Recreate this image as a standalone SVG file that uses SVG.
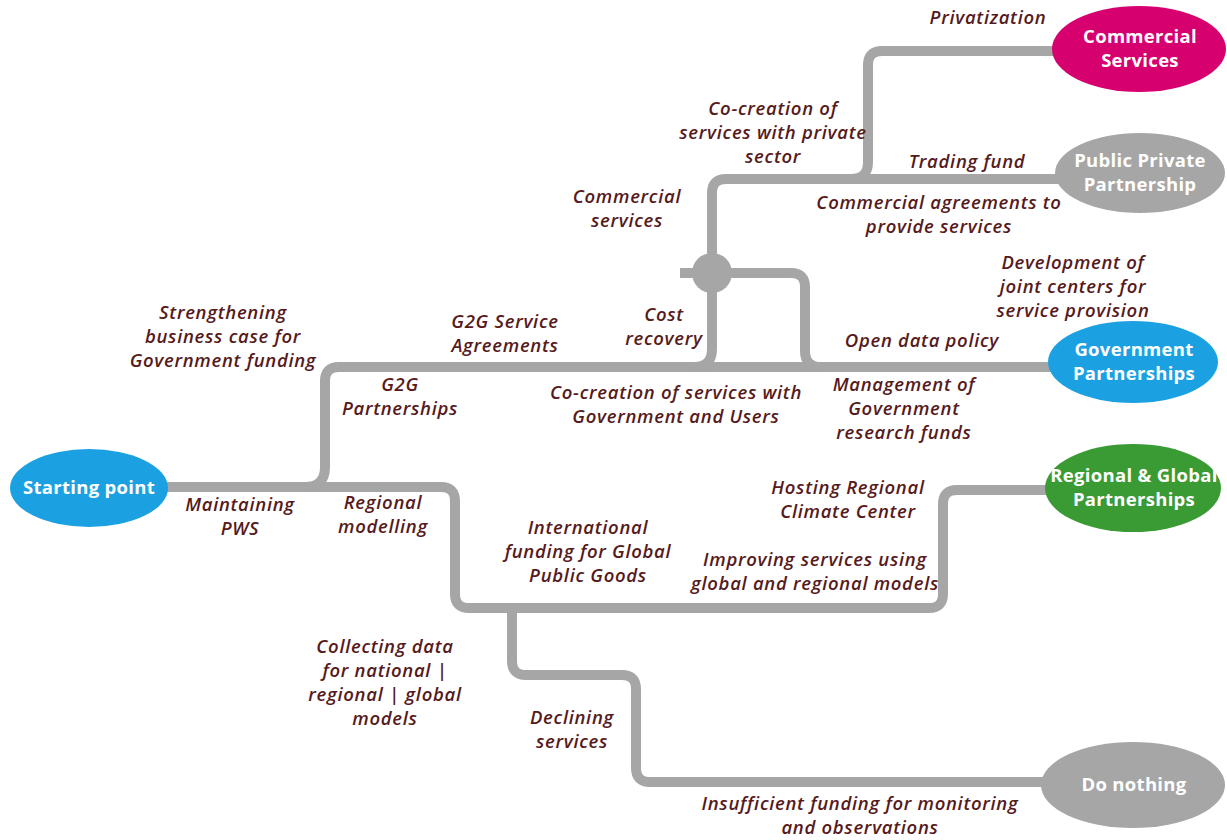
<svg xmlns="http://www.w3.org/2000/svg" width="1227" height="840" viewBox="0 0 1227 840">
  <style>
    .track { fill: none; stroke: #a6a6a6; stroke-width: 10; stroke-linejoin: round; }
    .lbl { font-family: "Open Sans", "Liberation Sans", sans-serif; font-style: italic; font-weight: 600; font-size: 18.5px; letter-spacing: 0.7px; fill: #561a1c; text-anchor: middle; }
    .node-text { font-family: "Open Sans", "Liberation Sans", sans-serif; font-weight: 700; font-size: 18.5px; letter-spacing: 0.3px; fill: #ffffff; text-anchor: middle; }
  </style>
  <rect width="1227" height="840" fill="#ffffff"/>

  <!-- connectors -->
  <g id="connectors">
    <path class="track" d="M160,487 H441 Q455,487 455,501 V594 Q455,608 469,608 H929 Q943,608 943,594 V504 Q943,490 957,490 H1048"/>
    <path class="track" d="M305,487 Q325,487 325,467 V381 Q325,367 339,367 H1052"/>
    <path class="track" d="M694,367 Q712,367 712,349 V273"/>
    <path class="track" d="M712,273 V193 Q712,179 726,179 H1060"/>
    <path class="track" d="M712,273 H791 Q805,273 805,287 V351 Q805,367 821,367"/>
    <path class="track" d="M680,273 H712"/>
    <path class="track" d="M851,179 Q868,179 868,162 V65 Q868,51 882,51 H1056"/>
    <path class="track" d="M512,608 V661 Q512,675 526,675 H622 Q636,675 636,689 V768 Q636,782 650,782 H1046"/>
    <circle cx="712" cy="273" r="20" fill="#a6a6a6"/>
  </g>

  <!-- nodes -->
  <g id="start">
    <ellipse cx="89" cy="488" rx="79" ry="39" fill="#1ba1e2"/>
    <text class="node-text" x="89" y="494">Starting point</text>
  </g>
  <g id="commercial">
    <ellipse cx="1139" cy="49" rx="87" ry="43" fill="#d6006f"/>
    <text class="node-text" x="1140" y="43">Commercial</text>
    <text class="node-text" x="1140" y="67">Services</text>
  </g>
  <g id="ppp">
    <ellipse cx="1140" cy="173" rx="85" ry="40" fill="#a6a6a6"/>
    <text class="node-text" x="1140" y="167">Public Private</text>
    <text class="node-text" x="1140" y="191">Partnership</text>
  </g>
  <g id="government">
    <ellipse cx="1133" cy="362" rx="85" ry="41" fill="#1ba1e2"/>
    <text class="node-text" x="1134" y="356">Government</text>
    <text class="node-text" x="1134" y="380">Partnerships</text>
  </g>
  <g id="regional">
    <ellipse cx="1133" cy="488" rx="88" ry="44" fill="#3a9a34"/>
    <text class="node-text" x="1134" y="482">Regional &amp; Global</text>
    <text class="node-text" x="1134" y="506">Partnerships</text>
  </g>
  <g id="nothing">
    <ellipse cx="1133" cy="785" rx="92" ry="43" fill="#a6a6a6"/>
    <text class="node-text" x="1134" y="791">Do nothing</text>
  </g>

  <!-- path labels -->
  <g id="labels">
    <text class="lbl" x="988" y="24">Privatization</text>
    <text class="lbl" x="773" y="115">Co-creation of</text>
    <text class="lbl" x="773" y="139">services with private</text>
    <text class="lbl" x="773" y="163">sector</text>
    <text class="lbl" x="967" y="168">Trading fund</text>
    <text class="lbl" x="939" y="209">Commercial agreements to</text>
    <text class="lbl" x="939" y="233">provide services</text>
    <text class="lbl" x="627" y="203">Commercial</text>
    <text class="lbl" x="627" y="227">services</text>
    <text class="lbl" x="1073" y="269">Development of</text>
    <text class="lbl" x="1073" y="293">joint centers for</text>
    <text class="lbl" x="1073" y="317">service provision</text>
    <text class="lbl" x="922" y="347">Open data policy</text>
    <text class="lbl" x="904" y="391">Management of</text>
    <text class="lbl" x="904" y="415">Government</text>
    <text class="lbl" x="904" y="439">research funds</text>
    <text class="lbl" x="676" y="399">Co-creation of services with</text>
    <text class="lbl" x="676" y="423">Government and Users</text>
    <text class="lbl" x="664" y="321">Cost</text>
    <text class="lbl" x="664" y="345">recovery</text>
    <text class="lbl" x="505" y="328">G2G Service</text>
    <text class="lbl" x="505" y="352">Agreements</text>
    <text class="lbl" x="223" y="319">Strengthening</text>
    <text class="lbl" x="223" y="343">business case for</text>
    <text class="lbl" x="223" y="367">Government funding</text>
    <text class="lbl" x="400" y="391">G2G</text>
    <text class="lbl" x="400" y="415">Partnerships</text>
    <text class="lbl" x="240" y="511">Maintaining</text>
    <text class="lbl" x="240" y="535">PWS</text>
    <text class="lbl" x="383" y="509">Regional</text>
    <text class="lbl" x="383" y="533">modelling</text>
    <text class="lbl" x="588" y="534">International</text>
    <text class="lbl" x="588" y="558">funding for Global</text>
    <text class="lbl" x="588" y="582">Public Goods</text>
    <text class="lbl" x="848" y="494">Hosting Regional</text>
    <text class="lbl" x="848" y="518">Climate Center</text>
    <text class="lbl" x="815" y="566">Improving services using</text>
    <text class="lbl" x="815" y="590">global and regional models</text>
    <text class="lbl" x="385" y="653">Collecting data</text>
    <text class="lbl" x="385" y="677">for national |</text>
    <text class="lbl" x="385" y="701">regional | global</text>
    <text class="lbl" x="385" y="725">models</text>
    <text class="lbl" x="572" y="724">Declining</text>
    <text class="lbl" x="572" y="748">services</text>
    <text class="lbl" x="860" y="810">Insufficient funding for monitoring</text>
    <text class="lbl" x="860" y="834">and observations</text>
  </g>
</svg>
